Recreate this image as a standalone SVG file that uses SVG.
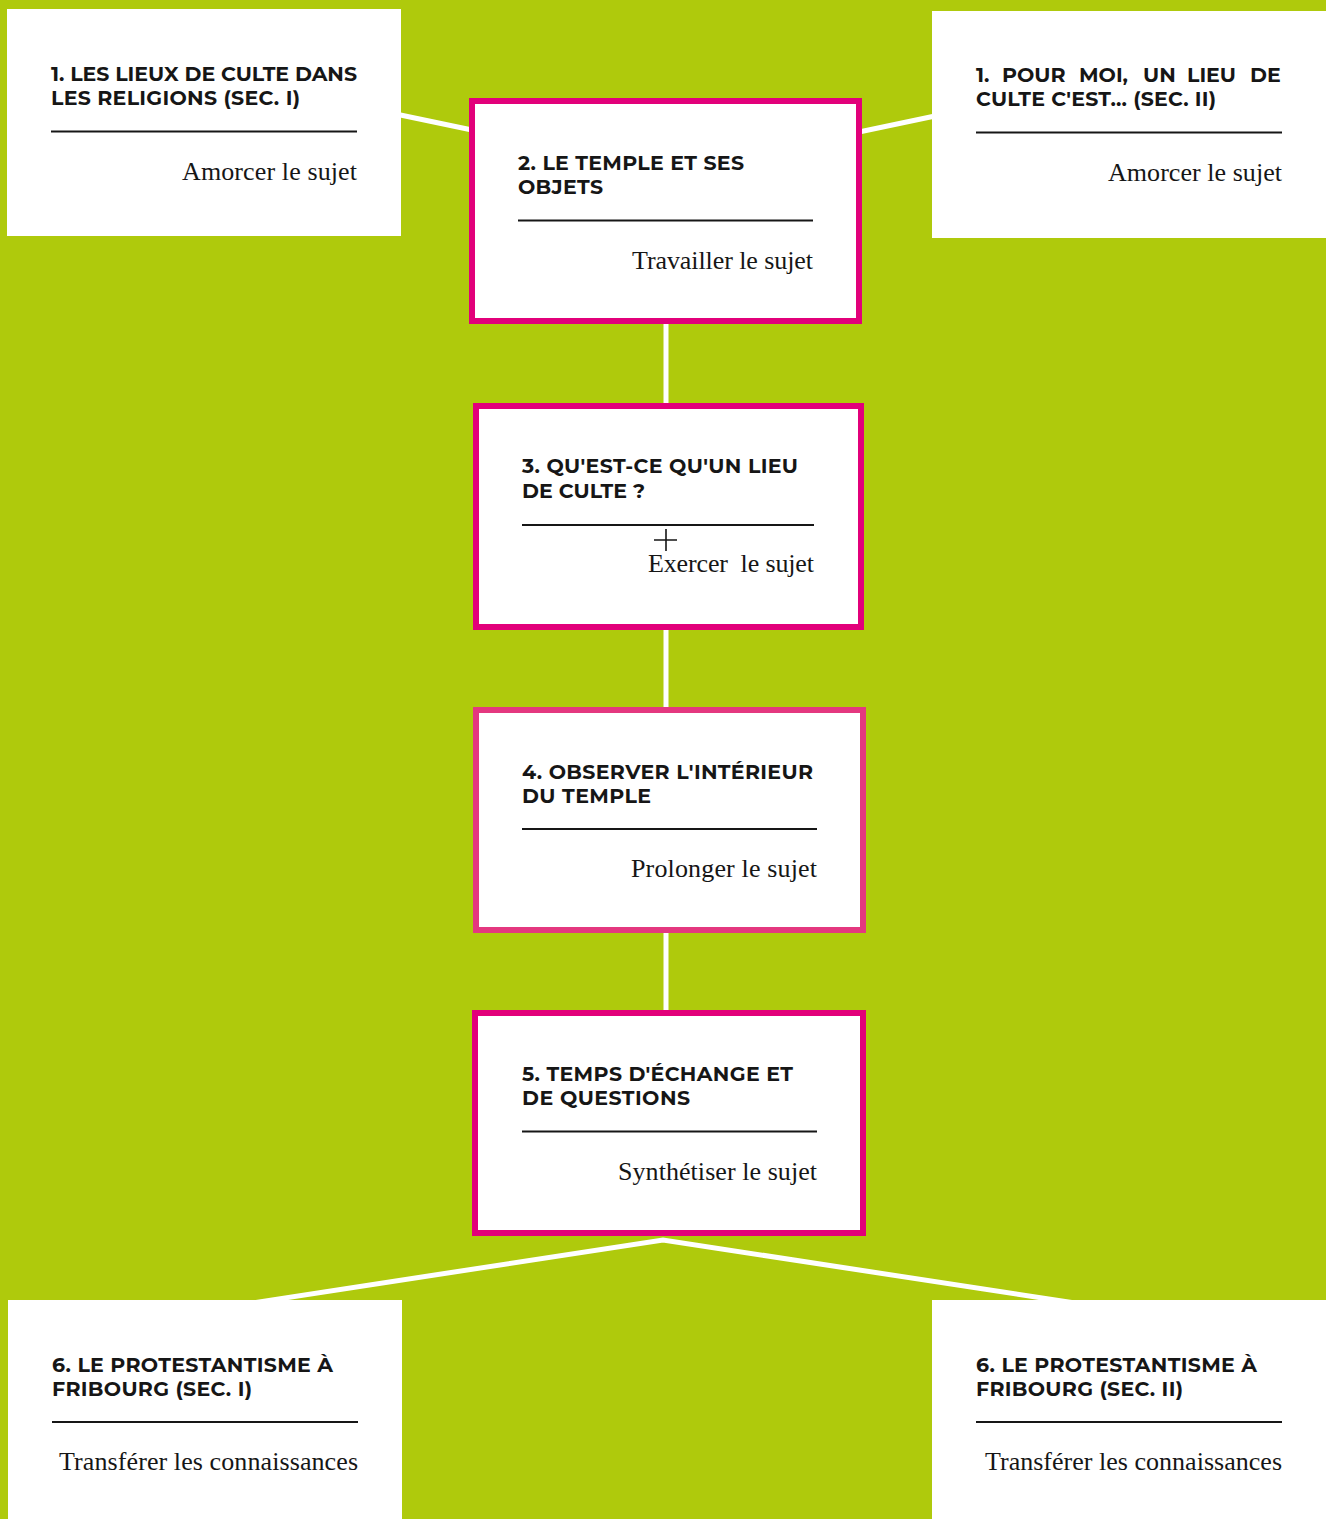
<svg xmlns="http://www.w3.org/2000/svg" width="1326" height="1519" viewBox="0 0 1326 1519">
<style>
.bg{fill:#AFCA0C}
.box{fill:#ffffff}
.pk{fill:#ffffff;stroke:#E2007A;stroke-width:6}
.pk4{fill:#ffffff;stroke:#E4387F;stroke-width:6}
.conn{stroke:#ffffff;stroke-width:5;fill:none}
.rule{stroke:#161616;stroke-width:2}
.t{font-family:Montserrat,Inter,"Open Sans","Liberation Sans",sans-serif;font-weight:700;font-size:20.5px;fill:#161616}
.s{font-family:"Liberation Serif","DejaVu Serif",serif;font-size:26px;fill:#161616;text-anchor:end}
</style>
<rect class="bg" x="0" y="0" width="1326" height="1519"/>
<g id="connectors">
<line class="conn" x1="398" y1="114.5" x2="472" y2="130"/>
<line class="conn" x1="859" y1="132" x2="935" y2="116"/>
<line class="conn" x1="666" y1="320" x2="666" y2="408"/>
<line class="conn" x1="666" y1="625" x2="666" y2="712"/>
<line class="conn" x1="666" y1="928" x2="666" y2="1015"/>
<polyline class="conn" points="252,1303 663,1240 1075,1303"/>
</g>
<g id="node1-sec1">
<rect class="box" x="7" y="9" width="394" height="227"/>
<text class="t" x="51" y="81" textLength="306">1. LES LIEUX DE CULTE DANS</text>
<text class="t" x="51" y="105" textLength="249">LES RELIGIONS (SEC. I)</text>
<line class="rule" x1="51" y1="131.5" x2="357" y2="131.5"/>
<text class="s" x="357" y="180" textLength="175">Amorcer le sujet</text>
</g>
<g id="node1-sec2">
<rect class="box" x="932" y="11" width="394" height="227"/>
<text class="t" y="82"><tspan x="976">1.</tspan><tspan x="1002">POUR</tspan><tspan x="1079">MOI,</tspan><tspan x="1143">UN</tspan><tspan x="1187">LIEU</tspan><tspan x="1250">DE</tspan></text>
<text class="t" x="976" y="106" textLength="240">CULTE C'EST... (SEC. II)</text>
<line class="rule" x1="976" y1="132.5" x2="1282" y2="132.5"/>
<text class="s" x="1282" y="181" textLength="174">Amorcer le sujet</text>
</g>
<g id="node2">
<rect class="pk" x="472" y="101" width="387" height="220"/>
<text class="t" x="518" y="170" textLength="226">2. LE TEMPLE ET SES</text>
<text class="t" x="518" y="194" textLength="85">OBJETS</text>
<line class="rule" x1="518" y1="220.5" x2="813" y2="220.5"/>
<text class="s" x="813" y="269" textLength="181">Travailler le sujet</text>
</g>
<g id="node3">
<rect class="pk" x="476" y="406" width="385" height="221"/>
<text class="t" x="522" y="473" textLength="276">3. QU'EST-CE QU'UN LIEU</text>
<text class="t" x="522" y="497.5" textLength="123">DE CULTE ?</text>
<line class="rule" x1="522" y1="525" x2="814" y2="525"/>
<path d="M654 540H677M666 529V551" stroke="#161616" stroke-width="1.6" fill="none"/>
<text class="s" x="814" y="572" textLength="166" xml:space="preserve" style="white-space:pre">Exercer  le sujet</text>
</g>
<g id="node4">
<rect class="pk4" x="476" y="710" width="387" height="220"/>
<text class="t" x="522" y="779" textLength="291">4. OBSERVER L'INTÉRIEUR</text>
<text class="t" x="522" y="803" textLength="129">DU TEMPLE</text>
<line class="rule" x1="522" y1="829" x2="817" y2="829"/>
<text class="s" x="817" y="876.5" textLength="186">Prolonger le sujet</text>
</g>
<g id="node5">
<rect class="pk" x="475" y="1013" width="388" height="220"/>
<text class="t" x="522" y="1081" textLength="271">5. TEMPS D'ÉCHANGE ET</text>
<text class="t" x="522" y="1105" textLength="168">DE QUESTIONS</text>
<line class="rule" x1="522" y1="1131.5" x2="817" y2="1131.5"/>
<text class="s" x="817" y="1180" textLength="199">Synthétiser le sujet</text>
</g>
<g id="node6-sec1">
<rect class="box" x="8" y="1300" width="394" height="219"/>
<text class="t" x="52" y="1372" textLength="281">6. LE PROTESTANTISME À</text>
<text class="t" x="52" y="1396" textLength="200">FRIBOURG (SEC. I)</text>
<line class="rule" x1="52" y1="1422" x2="358" y2="1422"/>
<text class="s" x="358" y="1470" textLength="299">Transférer les connaissances</text>
</g>
<g id="node6-sec2">
<rect class="box" x="932" y="1300" width="394" height="219"/>
<text class="t" x="976" y="1372" textLength="281">6. LE PROTESTANTISME À</text>
<text class="t" x="976" y="1396" textLength="207">FRIBOURG (SEC. II)</text>
<line class="rule" x1="976" y1="1422" x2="1282" y2="1422"/>
<text class="s" x="1282" y="1470" textLength="297">Transférer les connaissances</text>
</g>
</svg>
